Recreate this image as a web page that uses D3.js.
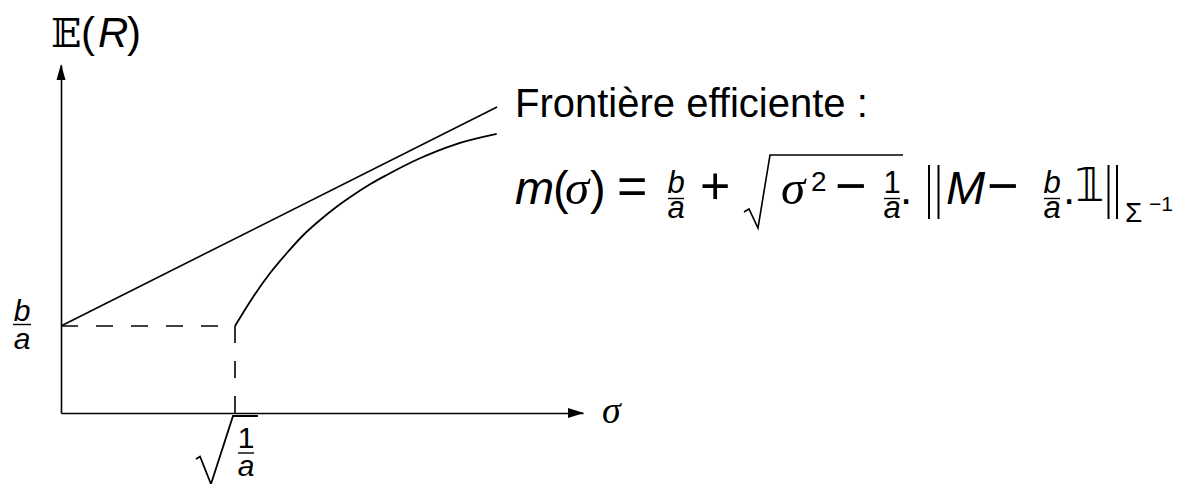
<!DOCTYPE html>
<html>
<head>
<meta charset="utf-8">
<script src="https://cdn.jsdelivr.net/npm/d3@7"></script>
<style>
  body { margin: 0; background: #fff; }
  svg { display: block; }
</style>
</head>
<body>
<div id="chart"></div>
<script>
// Values (sigma in units of sqrt(1/a), return in units of b/a)
const minSigma = 1;      // sqrt(1/a)
const minReturn = 1;     // b/a
const xMax = 3;
const yMax = 4;

// tangent line (asymptote)
const lineSigma = [0, 2.506];
const lineReturn = [1, 3.517];

// efficient frontier
const frontierSigma = [1.000, 1.105, 1.201, 1.297, 1.393, 1.489, 1.584, 1.680, 1.776, 1.872, 2.063, 2.255, 2.504];
const frontierReturn = [1.000, 1.337, 1.606, 1.836, 2.046, 2.218, 2.371, 2.506, 2.629, 2.736, 2.928, 3.080, 3.207];

const width = 1186, height = 484;
const sans = "'Liberation Sans', Arial, sans-serif";
const serif = "'Liberation Serif', 'Times New Roman', serif";

const svg = d3.select("#chart").append("svg")
  .attr("width", width)
  .attr("height", height);

const x = d3.scaleLinear().domain([0, xMax]).range([61, 583]);
const y = d3.scaleLinear().domain([0, yMax]).range([413, 65]);

// axes (no ticks, just the lines)
svg.append("g")
  .attr("transform", `translate(0,${y(0)})`)
  .call(d3.axisBottom(x).tickValues([]).tickSizeOuter(0))
  .call(g => g.select(".domain").attr("stroke", "#000").attr("stroke-width", 1.6));

svg.append("g")
  .attr("transform", `translate(${x(0)},0)`)
  .call(d3.axisLeft(y).tickValues([]).tickSizeOuter(0))
  .call(g => g.select(".domain").attr("stroke", "#000").attr("stroke-width", 1.6));

// arrow heads
svg.append("path")
  .attr("d", `M${x(xMax) + 1},${y(0)} L${x(xMax) - 15},${y(0) - 5} L${x(xMax) - 15},${y(0) + 5} Z`)
  .attr("fill", "#000");
svg.append("path")
  .attr("d", `M${x(0)},${y(yMax) - 1} L${x(0) - 4.5},${y(yMax) + 15} L${x(0) + 4.5},${y(yMax) + 15} Z`)
  .attr("fill", "#000");

// dashed guides
svg.append("path")
  .attr("d", `M${x(0)},${y(minReturn)} H${x(minSigma)}`)
  .attr("stroke", "#000").attr("stroke-width", 1.6)
  .attr("stroke-dasharray", "17,18").attr("fill", "none");
svg.append("path")
  .attr("d", `M${x(minSigma)},${y(minReturn)} V${y(0)}`)
  .attr("stroke", "#000").attr("stroke-width", 1.6)
  .attr("stroke-dasharray", "17,18").attr("fill", "none");

// tangent line
const line = d3.line().x(d => x(d[0])).y(d => y(d[1]));
svg.append("path")
  .datum(d3.zip(lineSigma, lineReturn))
  .attr("d", line)
  .attr("stroke", "#000").attr("stroke-width", 1.6).attr("fill", "none");

// frontier curve
svg.append("path")
  .datum(d3.zip(frontierSigma, frontierReturn))
  .attr("d", line.curve(d3.curveMonotoneX))
  .attr("stroke", "#000").attr("stroke-width", 1.8).attr("fill", "none");

// ---- text helpers ----
function txt(px, py, s, size, family, italic) {
  return svg.append("text")
    .attr("x", px).attr("y", py)
    .attr("font-family", family || sans)
    .attr("font-size", size)
    .attr("font-style", italic ? "italic" : "normal")
    .attr("fill", "#000")
    .text(s);
}
function frac(cx, num, den, size, yNum, yBar, yDen, halfW, numItalic) {
  txt(cx, yNum, num, size, sans, numItalic).attr("text-anchor", "middle");
  svg.append("line")
    .attr("x1", cx - halfW).attr("x2", cx + halfW)
    .attr("y1", yBar).attr("y2", yBar)
    .attr("stroke", "#000").attr("stroke-width", 1.4);
  txt(cx, yDen, den, size, sans, true).attr("text-anchor", "middle");
}
function rule(d, w) {
  svg.append("path").attr("d", d)
    .attr("stroke", "#000").attr("stroke-width", w || 1.6)
    .attr("fill", "none").attr("stroke-linejoin", "miter");
}

// y axis title E(R)
txt(51, 47, "𝔼", 40, "'DejaVu Serif', serif");
txt(81, 47, "(", 42);
txt(98, 47, "R", 42, sans, true);
txt(127, 47, ")", 42);

// x axis title sigma
txt(602, 423, "σ", 38, serif, true);

// b/a on the y axis
frac(22, "b", "a", 30, 321, 324.5, 349, 9, true);

// sqrt(1/a) on the x axis
rule(`M196,459 L200,456.5 L211,484 L233,416 L258,416`, 1.8);
frac(246, "1", "a", 30, 448, 453, 476, 8, false);

// Frontière efficiente :
txt(515, 117, "Frontière efficiente :", 40);

// m(σ) = b/a + sqrt(σ² − 1/a) . ||M − b/a . 1||_{Σ^-1}
const B = 204;
txt(515, B, "m", 47, sans, true);
txt(553, B, "(", 47);
txt(565, B, "σ", 49, serif, true);
txt(590, B, ")", 47);
txt(617, B, "=", 52);
frac(676, "b", "a", 31, 193, 198.5, 218, 8, true);
txt(700, B, "+", 52);
rule(`M744,212 L749,209 L758,228 L770,155 L903,155`, 1.6);
txt(781, B, "σ", 49, serif, true);
txt(811, 191, "2", 28);
txt(835, B, "−", 54);
frac(892, "1", "a", 31, 193, 198.5, 218, 8, false);
txt(900, B, ".", 44);
rule(`M929,165 V219 M938.5,165 V219`, 2);
txt(946, B, "M", 47, sans, true);
txt(987, B, "−", 54);
frac(1052, "b", "a", 31, 193, 198.5, 218, 8, true);
txt(1063, B, ".", 44);
txt(1075, 201, "𝟙", 46, "'DejaVu Sans', sans-serif");
rule(`M1108.5,165 V219 M1117,165 V219`, 2);
txt(1125, 222, "Σ", 28);
txt(1149, 211, "−1", 21);
</script>
</body>
</html>
